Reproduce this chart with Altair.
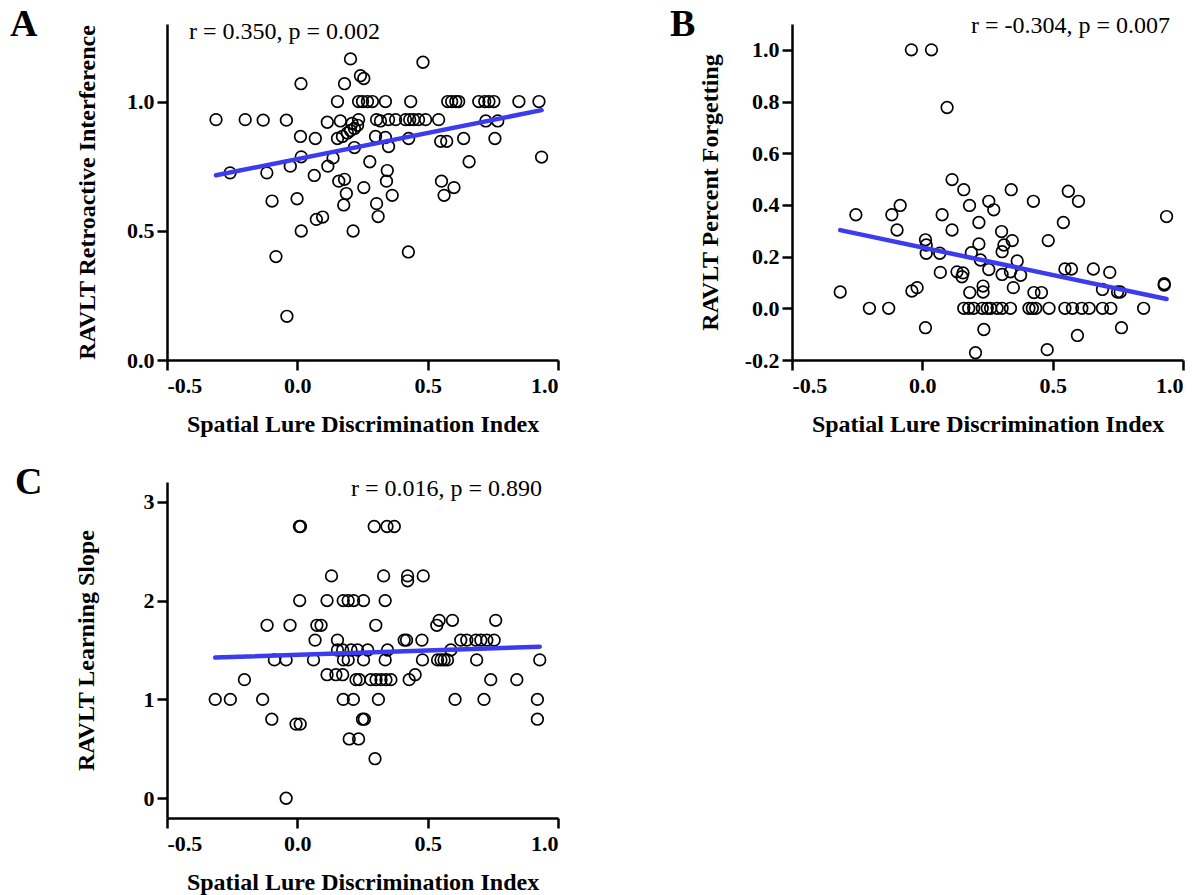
import altair as alt
import pandas as pd

# Panel A: RAVLT retroactive interference vs spatial lure discrimination
a_x = [0.204, 0.482, 0.242, 0.255, 0.014, 0.181,
       0.154, 0.235, 0.25, 0.269, 0.288, 0.338, 0.435, 0.577, 0.592, 0.608, 0.619,
       0.696, 0.719, 0.735, 0.754, 0.85, 0.927,
       -0.312, -0.2, -0.131, -0.042, 0.115, 0.165, 0.235, 0.304, 0.319, 0.35, 0.377,
       0.415, 0.431, 0.446, 0.465, 0.492, 0.542, 0.723, 0.769,
       0.21, 0.231, 0.219, 0.204, 0.192, 0.173, 0.154,
       0.012, 0.069, 0.3, 0.338, 0.35, 0.427, 0.55, 0.573, 0.638, 0.758, 0.219,
       0.015, 0.137, 0.278, 0.117, -0.027, -0.258, -0.117, 0.065, 0.345, 0.659, 0.937,
       0.159, 0.181, 0.342, 0.255, 0.188, 0.364, 0.553, 0.601, 0.563, -0.097, -0.001,
       0.178, 0.304, 0.31, 0.073, 0.097, 0.015, 0.214, 0.426, -0.082, -0.04]
a_y = [1.165, 1.152, 1.10, 1.089, 1.069, 1.069,
       1.0, 1.0, 1.0, 1.0, 1.0, 1.0, 1.0, 1.0, 1.0, 1.0, 1.0,
       1.0, 1.0, 1.0, 1.0, 1.0, 1.0,
       0.93, 0.93, 0.928, 0.928, 0.92, 0.925, 0.93, 0.93, 0.925, 0.93, 0.93,
       0.93, 0.93, 0.93, 0.93, 0.93, 0.93, 0.925, 0.925,
       0.915, 0.908, 0.896, 0.888, 0.878, 0.865, 0.857,
       0.865, 0.857, 0.865, 0.861, 0.826, 0.857, 0.846, 0.846, 0.857, 0.857, 0.822,
       0.786, 0.782, 0.767, 0.75, 0.75, 0.724, 0.724, 0.714, 0.733, 0.767, 0.785,
       0.692, 0.699, 0.692, 0.667, 0.644, 0.637, 0.692, 0.667, 0.637, 0.615, 0.624,
       0.6, 0.605, 0.555, 0.544, 0.553, 0.499, 0.499, 0.418, 0.4, 0.169]

# Panel B: RAVLT percent forgetting
b_x = [-0.042, 0.035, 0.095, 0.114, 0.159, 0.341, 0.56, 0.599, 0.426, 0.255,
       0.274, 0.181, -0.085, -0.117, -0.255, -0.097, 0.076, 0.114, 0.217, 0.304,
       0.345, 0.313, 0.306, 0.217, 0.188, 0.223, 0.364, 0.483, 0.541, 0.937,
       0.012, 0.015, 0.015, 0.067, 0.069, 0.133, 0.152, 0.156, 0.255, 0.306,
       0.338, 0.377, 0.349, 0.233, 0.233, 0.182, 0.428, 0.457, 0.547, 0.572,
       0.656, 0.719, 0.691, 0.749, 0.759, 0.928, 0.928, -0.315, -0.04, -0.02,
       -0.203, -0.129, 0.159, 0.178, 0.197, 0.23, 0.249, 0.262, 0.287, 0.306,
       0.338, 0.409, 0.422, 0.435, 0.486, 0.547, 0.576, 0.612, 0.64, 0.691,
       0.723, 0.849,
       0.012, 0.236, 0.204, 0.479, 0.595, 0.764]
b_y = [1.0, 1.0, 0.777, 0.498, 0.459, 0.459, 0.453, 0.414, 0.414, 0.414,
       0.381, 0.398, 0.398, 0.362, 0.362, 0.303, 0.362, 0.303, 0.332, 0.297,
       0.262, 0.245, 0.219, 0.249, 0.215, 0.187, 0.183, 0.262, 0.332, 0.355,
       0.265, 0.245, 0.213, 0.213, 0.139, 0.141, 0.122, 0.137, 0.15, 0.131,
       0.141, 0.128, 0.08, 0.086, 0.063, 0.061, 0.061, 0.061, 0.152, 0.152,
       0.152, 0.139, 0.073, 0.063, 0.063, 0.09, 0.095, 0.063, 0.067, 0.08,
       0.0, 0.0, 0.0, 0.0, 0.0, 0.0, 0.0, 0.0, 0.0, 0.0,
       0.0, 0.0, 0.0, 0.0, 0.0, 0.0, 0.0, 0.0, 0.0, 0.0,
       0.0, 0.0,
       -0.075, -0.082, -0.172, -0.16, -0.105, -0.075]

# Panel C: RAVLT learning slope
c_x = [0.008, 0.012, 0.295, 0.344, 0.372,
       0.131, 0.331, 0.423, 0.423, 0.483,
       0.009, 0.114, 0.176, 0.195, 0.216, 0.254, 0.337,
       -0.116, -0.028, 0.075, 0.091, 0.301, 0.544, 0.535, 0.595, 0.761,
       0.068, 0.154, 0.41, 0.419, 0.478, 0.589, 0.627, 0.65, 0.685, 0.704, 0.727, 0.755,
       0.154, 0.174, 0.206, 0.231, 0.27, 0.346,
       -0.088, -0.043, 0.062, 0.177, 0.195, 0.254, 0.337, 0.48, 0.538, 0.551, 0.563,
       0.576, 0.688, 0.93,
       -0.203, 0.114, 0.148, 0.174, 0.225, 0.238, 0.282, 0.302, 0.321, 0.34, 0.359,
       0.429, 0.452, 0.742, 0.842,
       -0.315, -0.257, -0.133, 0.176, 0.215, 0.311, 0.605, 0.716, 0.921,
       -0.098, -0.005, 0.011, 0.25, 0.257, 0.921,
       0.199, 0.235, 0.298, -0.043]
c_y = [2.75, 2.75, 2.75, 2.75, 2.75,
       2.25, 2.25, 2.25, 2.2, 2.25,
       2.0, 2.0, 2.0, 2.0, 2.0, 2.0, 2.0,
       1.75, 1.75, 1.75, 1.75, 1.75, 1.8, 1.75, 1.8, 1.8,
       1.6, 1.6, 1.6, 1.6, 1.6, 1.5, 1.6, 1.6, 1.6, 1.6, 1.6, 1.6,
       1.5, 1.5, 1.5, 1.5, 1.5, 1.5,
       1.4, 1.4, 1.4, 1.4, 1.4, 1.4, 1.4, 1.4, 1.4, 1.4, 1.4,
       1.4, 1.4, 1.4,
       1.2, 1.25, 1.25, 1.25, 1.2, 1.2, 1.2, 1.2, 1.2, 1.2, 1.2,
       1.2, 1.25, 1.2, 1.2,
       1.0, 1.0, 1.0, 1.0, 1.0, 1.0, 1.0, 1.0, 1.0,
       0.8, 0.75, 0.75, 0.8, 0.8, 0.8,
       0.6, 0.6, 0.4, 0.0]

x_ticks = [-0.5, 0.0, 0.5, 1.0]

FONT = "Liberation Serif"
FIT_BLUE = "#3b3bef"
W, H = 391, 336

# labels with a plain hyphen for negative numbers
ONE_DEC = "datum.value < 0 ? '-' + format(-datum.value, '.1f') : format(datum.value, '.1f')"
INT = "format(datum.value, 'd')"


def panel(xs, ys, y_title, y_domain, y_ticks, y_label_expr, y_title_pad,
          letter, letter_x, letter_y, stat, stat_x, stat_y, stat_align):
    df = pd.DataFrame({"x": xs, "y": ys})
    x_enc = alt.X("x:Q",
                  scale=alt.Scale(domain=[-0.5, 1.0], nice=False, zero=False),
                  axis=alt.Axis(values=x_ticks, labelExpr=ONE_DEC,
                                title="Spatial Lure Discrimination Index"))
    y_enc = alt.Y("y:Q",
                  scale=alt.Scale(domain=y_domain, nice=False, zero=False),
                  axis=alt.Axis(values=y_ticks, labelExpr=y_label_expr,
                                title=y_title, titlePadding=y_title_pad))
    points = alt.Chart(df).mark_point(
        shape="circle", filled=False, size=135, strokeWidth=1.7,
        color="black", opacity=1,
    ).encode(x=x_enc, y=y_enc)
    fit = alt.Chart(df).transform_regression("x", "y").mark_line(
        color=FIT_BLUE, strokeWidth=4.5, strokeCap="round",
    ).encode(x="x:Q", y="y:Q")
    stat_text = alt.Chart(pd.DataFrame({"t": [stat]})).mark_text(
        font=FONT, fontSize=24, align=stat_align, baseline="alphabetic", color="black",
    ).encode(x=alt.value(stat_x), y=alt.value(stat_y), text="t:N")
    letter_text = alt.Chart(pd.DataFrame({"t": [letter]})).mark_text(
        font=FONT, fontSize=38, fontWeight="bold", align="left",
        baseline="alphabetic", color="black",
    ).encode(x=alt.value(letter_x), y=alt.value(letter_y), text="t:N")
    return alt.layer(points, fit, stat_text, letter_text).properties(width=W, height=H)


panel_a = panel(a_x, a_y, "RAVLT Retroactive Interference", [0, 1.3],
                [0.0, 0.5, 1.0], ONE_DEC, 27,
                "A", -157, 12, "r = 0.350, p = 0.002", 22, 15, "left")
panel_b = panel(b_x, b_y, "RAVLT Percent Forgetting", [-0.2, 1.1],
                [-0.2, 0.0, 0.2, 0.4, 0.6, 0.8, 1.0], ONE_DEC, 22,
                "B", -122, 12, "r = -0.304, p = 0.007", 378, 9, "right")
panel_c = panel(c_x, c_y, "RAVLT Learning Slope", [-0.2, 3.2],
                [0, 1, 2, 3], INT, 45,
                "C", -152, 12, "r = 0.016, p = 0.890", 375, 14, "right")

chart = alt.ConcatChart(
    concat=[panel_a, panel_b, panel_c], columns=2,
    spacing={"row": 122, "column": 234}, bounds="flush",
).properties(
    padding={"left": 10, "top": 6, "right": 5, "bottom": 5},
    background="white",
).configure_view(
    stroke=None,
).configure_axis(
    grid=False,
    domainColor="black", domainWidth=2.5,
    tickColor="black", tickWidth=2.5, tickSize=10,
    labelFont=FONT, labelFontSize=22, labelFontWeight="bold", labelColor="black",
    labelPadding=3,
    titleFont=FONT, titleFontSize=24, titleFontWeight="bold", titleColor="black",
).configure_axisX(
    labelPadding=5,
    titlePadding=16,
)

chart.save("out.html", embed_options={"renderer": "svg", "actions": False})
